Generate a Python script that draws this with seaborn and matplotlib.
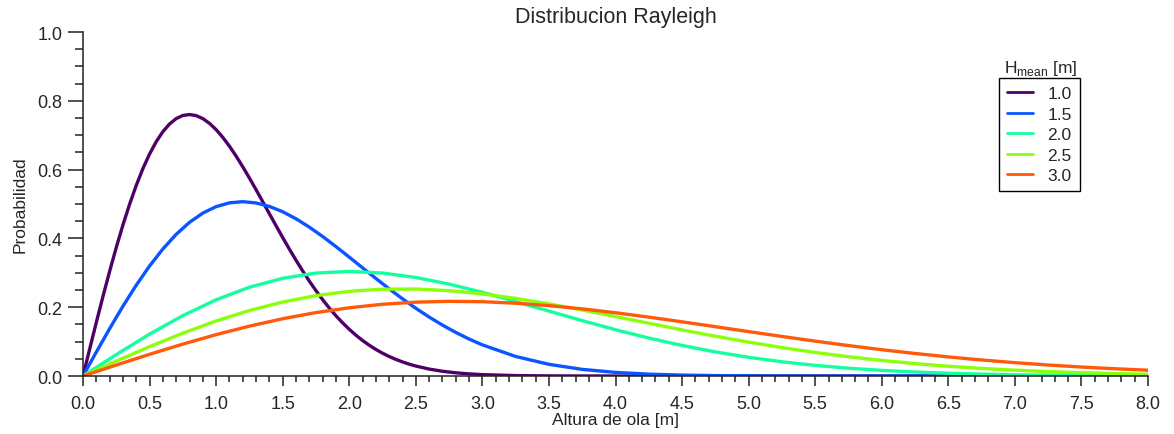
import numpy as np
import pandas as pd
import matplotlib
matplotlib.use("Agg")
import matplotlib.pyplot as plt
from matplotlib.ticker import MultipleLocator, FormatStrFormatter
import seaborn as sns

# ---- data ----
H_1 = [0.0, 0.05, 0.1, 0.15, 0.2, 0.25, 0.3, 0.35, 0.4, 0.45, 0.5, 0.55, 0.6, 0.65,
       0.7, 0.75, 0.8, 0.85, 0.9, 0.95, 1.0, 1.05, 1.1, 1.15, 1.2, 1.25, 1.3, 1.35,
       1.4, 1.45, 1.5, 1.55, 1.6, 1.65, 1.7, 1.75, 1.8, 1.85, 1.9, 1.95, 2.0, 2.05,
       2.1, 2.15, 2.2, 2.25, 2.3, 2.35, 2.4, 2.45, 2.5, 2.6, 2.7, 2.8, 2.9, 3.0,
       3.25, 3.5, 3.75, 4.0, 4.25, 4.5, 4.75, 5.0, 5.25, 5.5, 5.75, 6.0, 6.25, 6.5,
       6.75, 7.0, 7.25, 7.5, 7.75, 8.0]
H_fine = [0.0, 0.1, 0.2, 0.3, 0.4, 0.5, 0.6, 0.7, 0.8, 0.9, 1.0, 1.1, 1.2, 1.3, 1.4, 1.5,
          1.6, 1.7, 1.8, 1.9, 2.0, 2.1, 2.2, 2.3, 2.4, 2.5, 2.6, 2.7, 2.8, 2.9, 3.0,
          3.25, 3.5, 3.75, 4.0, 4.25, 4.5, 4.75, 5.0, 5.25, 5.5, 5.75, 6.0, 6.25, 6.5,
          6.75, 7.0, 7.25, 7.5, 7.75, 8.0]
H_coarse = [0.0, 0.25, 0.5, 0.75, 1.0, 1.25, 1.5, 1.75, 2.0, 2.25, 2.5, 2.75, 3.0, 3.25,
            3.5, 3.75, 4.0, 4.25, 4.5, 4.75, 5.0, 5.25, 5.5, 5.75, 6.0, 6.25, 6.5, 6.75,
            7.0, 7.25, 7.5, 7.75, 8.0]

p_10 = [0.0, 0.0784, 0.1559, 0.2315, 0.3044, 0.3739, 0.4391, 0.4994, 0.5541, 0.6029,
        0.6454, 0.6812, 0.7104, 0.7327, 0.7483, 0.7574, 0.7601, 0.7570, 0.7483, 0.7345,
        0.7162, 0.6938, 0.6680, 0.6393, 0.6083, 0.5755, 0.5415, 0.5068, 0.4717, 0.4369,
        0.4025, 0.3690, 0.3366, 0.3055, 0.2759, 0.2481, 0.2220, 0.1977, 0.1752, 0.1546,
        0.1358, 0.1187, 0.1033, 0.0895, 0.0772, 0.0663, 0.0567, 0.0483, 0.0409, 0.0345,
        0.0290, 0.0202, 0.0138, 0.0093, 0.0062, 0.0040, 0.0013, 0.0004, 0.0001, 0.0,
        0.0, 0.0, 0.0, 0.0, 0.0, 0.0, 0.0, 0.0, 0.0, 0.0, 0.0, 0.0, 0.0, 0.0, 0.0, 0.0]
p_15 = [0.0, 0.0696, 0.1377, 0.2030, 0.2641, 0.3199, 0.3694, 0.4119, 0.4467, 0.4736,
        0.4924, 0.5034, 0.5068, 0.5031, 0.4931, 0.4775, 0.4571, 0.4328, 0.4056, 0.3762,
        0.3456, 0.3145, 0.2836, 0.2534, 0.2244, 0.1969, 0.1714, 0.1480, 0.1267, 0.1075,
        0.0905, 0.0568, 0.0340, 0.0193, 0.0105, 0.0054, 0.0027, 0.0013, 0.0006, 0.0002,
        0.0001, 0.0, 0.0, 0.0, 0.0, 0.0, 0.0, 0.0, 0.0, 0.0, 0.0]
p_20 = [0.0, 0.0623, 0.1218, 0.1756, 0.2217, 0.2582, 0.2841, 0.2993, 0.3041, 0.2993,
        0.2865, 0.2672, 0.2433, 0.2166, 0.1887, 0.1610, 0.1346, 0.1104, 0.0888, 0.0701,
        0.0543, 0.0413, 0.0309, 0.0227, 0.0164, 0.0116, 0.0081, 0.0055, 0.0037, 0.0025,
        0.0016, 0.0010, 0.0007]
p_25 = [0.0, 0.0434, 0.0854, 0.1246, 0.1600, 0.1904, 0.2151, 0.2338, 0.2462, 0.2525,
        0.2529, 0.2481, 0.2387, 0.2257, 0.2097, 0.1918, 0.1728, 0.1534, 0.1342, 0.1157,
        0.0985, 0.0827, 0.0685, 0.0560, 0.0453, 0.0361, 0.0284, 0.0221, 0.0170, 0.0129,
        0.0097, 0.0072, 0.0052]
p_30 = [0.0, 0.0319, 0.0631, 0.0928, 0.1203, 0.1450, 0.1665, 0.1844, 0.1984, 0.2086,
        0.2147, 0.2171, 0.2160, 0.2117, 0.2046, 0.1952, 0.1839, 0.1712, 0.1575, 0.1434,
        0.1291, 0.1150, 0.1014, 0.0885, 0.0765, 0.0655, 0.0555, 0.0466, 0.0388, 0.0320,
        0.0261, 0.0211, 0.0169]

labels = ["1.0", "1.5", "2.0", "2.5", "3.0"]
colors = ["#4e0066", "#0a55ff", "#14ffa0", "#8cff0a", "#ff5a0a"]

frames = [
    pd.DataFrame({"H": H_1, "p": p_10, "Hm": labels[0]}),
    pd.DataFrame({"H": H_fine, "p": p_15, "Hm": labels[1]}),
    pd.DataFrame({"H": H_coarse, "p": p_20, "Hm": labels[2]}),
    pd.DataFrame({"H": H_coarse, "p": p_25, "Hm": labels[3]}),
    pd.DataFrame({"H": H_coarse, "p": p_30, "Hm": labels[4]}),
]
df = pd.concat(frames, ignore_index=True)

sns.set_style("ticks")
plt.rcParams["font.family"] = ["Liberation Sans", "DejaVu Sans"]

fig = plt.figure(figsize=(11.74, 4.35), dpi=100)
ax = fig.add_axes([0.0707, 0.1333, 0.9072, 0.7908])

sns.lineplot(data=df, x="H", y="p", hue="Hm", hue_order=labels,
             palette=dict(zip(labels, colors)), linewidth=2.4, ax=ax,
             sort=False, estimator=None, legend=True)

ax.set_xlim(0, 8)
ax.set_ylim(0, 1.0)
ax.xaxis.set_major_locator(MultipleLocator(0.5))
ax.xaxis.set_minor_locator(MultipleLocator(0.1))
ax.yaxis.set_major_locator(MultipleLocator(0.2))
ax.yaxis.set_minor_locator(MultipleLocator(0.05))
ax.xaxis.set_major_formatter(FormatStrFormatter("%.1f"))
ax.yaxis.set_major_formatter(FormatStrFormatter("%.1f"))

for s in ["top", "right"]:
    ax.spines[s].set_visible(False)
for s in ["left", "bottom"]:
    ax.spines[s].set_linewidth(1.1)
    ax.spines[s].set_color("#222222")

ax.tick_params(axis="y", which="major", direction="out", length=11, width=1.1,
               labelsize=13, pad=3.6, color="#222222")
ax.tick_params(axis="y", which="minor", direction="out", length=5.5, width=1.1,
               color="#222222")
ax.tick_params(axis="x", which="major", direction="out", length=7.5, width=1.1,
               labelsize=13, pad=6.5, color="#222222")
ax.tick_params(axis="x", which="minor", direction="out", length=4, width=1.1,
               color="#222222")

ax.set_xlabel("Altura de ola [m]", fontsize=12.5, labelpad=0)
ax.set_ylabel("Probabilidad", fontsize=12.5, labelpad=7.5)
ax.set_title("Distribucion Rayleigh", fontsize=15.5, pad=7.5)

leg = ax.legend(loc="upper left", bbox_to_anchor=(0.860, 0.866), frameon=True,
                fancybox=False, edgecolor="black", framealpha=1, fontsize=12.5,
                handlelength=1.5, handletextpad=0.85, borderpad=0.45,
                labelspacing=0.31, borderaxespad=0)
leg.get_frame().set_linewidth(1.0)
for line in leg.get_lines():
    line.set_linewidth(2.0)

fig.text(1041 / 1174, 1 - 73.3 / 435, r"H$_{\mathregular{mean}}$ [m]", ha="center",
         va="baseline", fontsize=12.5)

fig.savefig("out.png", dpi=100)
